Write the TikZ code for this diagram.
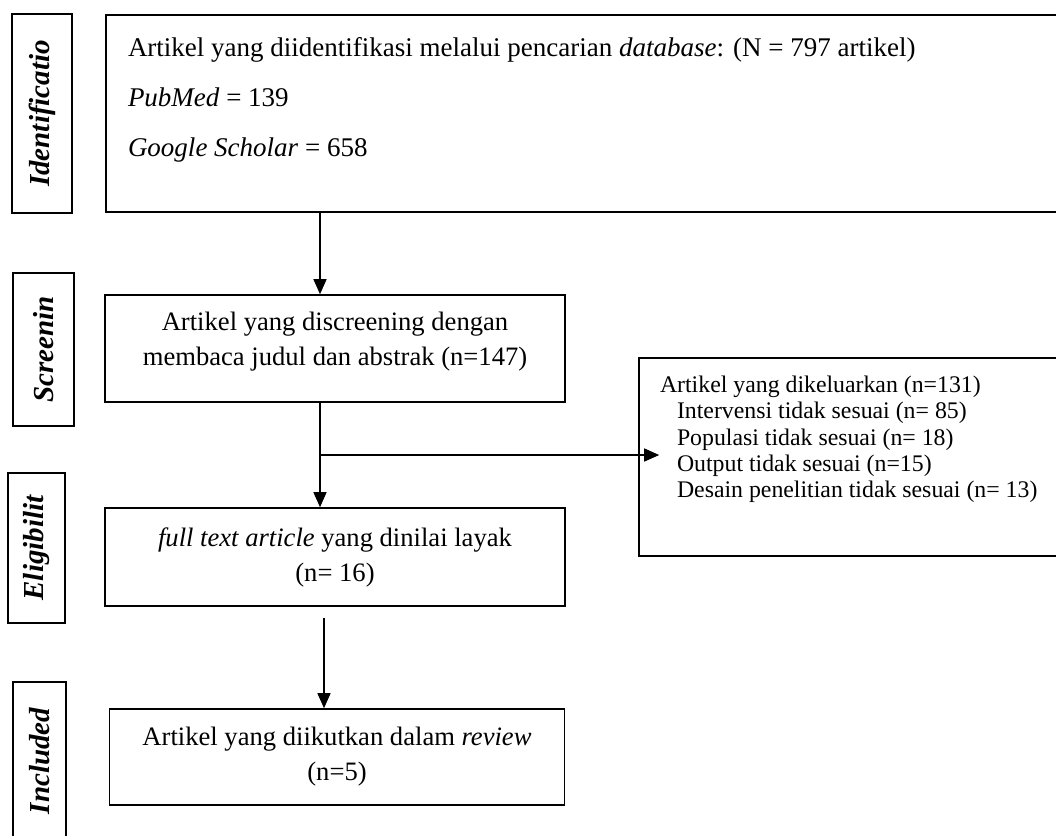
\documentclass[tikz,border=0pt]{standalone}
\usepackage{fontspec}
\setmainfont{Liberation Serif}
\usetikzlibrary{arrows.meta}

\tikzstyle{phase} = [rectangle, draw, line width=1.6pt, inner sep=0pt, font=\fontsize{29}{29}\selectfont\bfseries\itshape]
\tikzstyle{flow}  = [rectangle, draw, line width=1.6pt, inner sep=0pt, align=center, font=\fontsize{26.6}{35}\selectfont]
\tikzstyle{note}  = [rectangle, draw, line width=1.6pt, inner sep=0pt]
\tikzstyle{arrow} = [line width=1.3pt, -{Triangle[length=15pt, width=13pt]}]

\begin{document}
\begin{tikzpicture}
\useasboundingbox (0pt,0pt) rectangle (1056pt,-835pt);

\node (screen)   [flow, minimum width=460pt, minimum height=107pt] at (335pt,-348.5pt) {Artikel yang discreening dengan\\membaca judul dan abstrak (n=147)\rule[-20pt]{0pt}{0pt}};
\node (search)   [note, minimum width=974pt, minimum height=197pt, node distance=235pt, above of=screen, xshift=258pt] {\parbox[c][152pt][t]{930pt}{\raggedright\fontsize{27}{50}\selectfont Artikel yang diidentifikasi melalui pencarian \textit{database}: (N = 797 artikel)\\\textit{PubMed} = 139\\\textit{Google Scholar} = 658}};
\node (eligible) [flow, minimum width=460pt, minimum height=98pt, node distance=208.5pt, below of=screen] {\textit{full text article} yang dinilai layak\\(n= 16)};
\node (included) [flow, minimum width=455pt, minimum height=96pt, node distance=200pt, below of=eligible, xshift=2pt] {Artikel yang diikutkan dalam \textit{review}\\(n=5)};
\node (excl)     [note, minimum width=441pt, minimum height=198pt, node distance=524.5pt, right of=screen, yshift=-108.5pt] {\parbox[c][162pt][t]{399pt}{\raggedright\fontsize{23.8}{26.3}\selectfont Artikel yang dikeluarkan (n=131)\\\hspace*{17pt}Intervensi tidak sesuai (n= 85)\\\hspace*{17pt}Populasi tidak sesuai (n= 18)\\\hspace*{17pt}Output tidak sesuai (n=15)\\\hspace*{17pt}Desain penelitian tidak sesuai (n= 13)}};

\node (idlab)  [phase, minimum width=60pt, minimum height=199pt, node distance=551pt,   left of=search] {\rotatebox{90}{Identificatio}};
\node (scrlab) [phase, minimum width=61pt, minimum height=153pt, node distance=291.5pt, left of=screen, yshift=-1pt] {\rotatebox{90}{Screenin}};
\node (elilab) [phase, minimum width=57pt, minimum height=150pt, node distance=298.5pt, left of=eligible, yshift=9pt] {\rotatebox{90}{Eligibilit}};
\node (inclab) [phase, minimum width=53pt, minimum height=158pt, node distance=297.5pt, left of=included, yshift=-4pt] {\rotatebox{90}{Included}};

\draw [arrow] ([xshift=-15pt]screen.north |- search.south) -- ([xshift=-15pt]screen.north);
\draw [arrow] ([xshift=-15pt]screen.south) -- ([xshift=-15pt]eligible.north) coordinate [pos=0.5] (split);
\draw [arrow] (split) -- ([xshift=21pt]split -| excl.west);
\draw [arrow] ([xshift=-11pt,yshift=-11pt]eligible.south) -- ([xshift=-13pt]included.north);
\end{tikzpicture}
\end{document}
